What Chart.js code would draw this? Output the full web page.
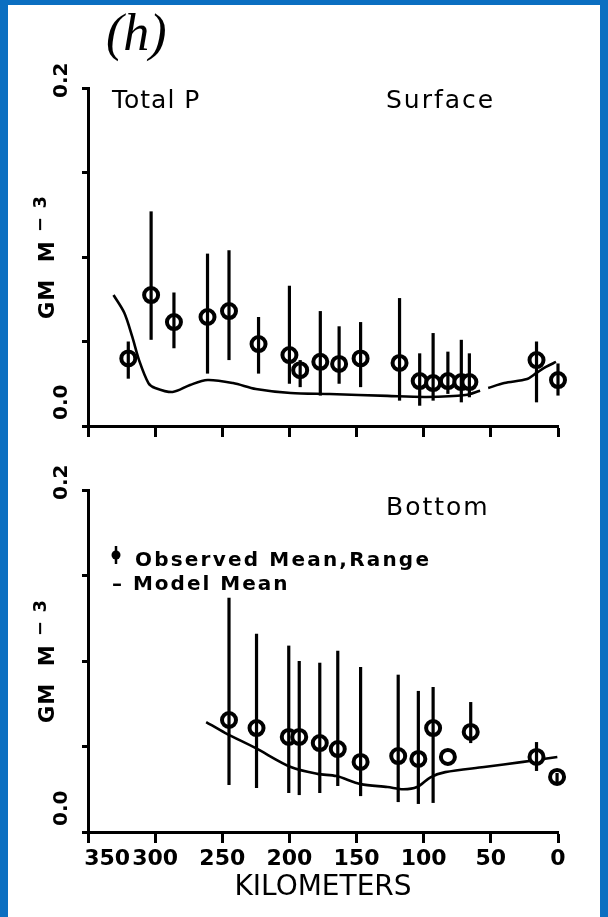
<!DOCTYPE html>
<html>
<head>
<meta charset="utf-8">
<script src="https://cdn.jsdelivr.net/npm/chart.js@4.4.1/dist/chart.umd.min.js"></script>
<style>
  html, body { margin: 0; padding: 0; background: #0b6fc1; width: 608px; height: 917px; overflow: hidden; }
  #paper { position: absolute; left: 8px; top: 5px; width: 592px; height: 912px; background: #fff; }
  canvas { position: absolute; left: 0; }
</style>
</head>
<body>
<div id="paper"></div>
<canvas id="surface" width="608" height="450" style="top:0"></canvas>
<canvas id="bottom" width="608" height="467" style="top:450px"></canvas>
<script>
// km tick labels (x axis runs 350 -> 0)
const kmTicks = [350, 300, 250, 200, 150, 100, 50, 0];

// Surface: observed mean and range
const surfKm   = [320, 303, 286, 261, 245, 223, 200, 192, 177, 163, 147, 118, 103, 93, 82, 72, 66, 16, 0];
const surfMean = [0.040, 0.0775, 0.0615, 0.0645, 0.068, 0.0485, 0.042, 0.033, 0.038, 0.0367, 0.040, 0.0373, 0.0266, 0.0254, 0.0266, 0.026, 0.026, 0.039, 0.0272];
const surfLo   = [0.028, 0.051, 0.046, 0.031, 0.039, 0.031, 0.025, 0.023, 0.018, 0.025, 0.023, 0.015, 0.012, 0.015, 0.019, 0.014, 0.017, 0.014, 0.018];
const surfHi   = [0.050, 0.127, 0.079, 0.102, 0.104, 0.0645, 0.083, 0.039, 0.068, 0.059, 0.0615, 0.0757, 0.043, 0.055, 0.044, 0.051, 0.043, 0.050, 0.037];

// Surface: model mean (null = break in the line)
const surfModelKm  = [331, 323, 317, 312, 305, 300, 287, 274, 261, 242, 225, 199, 170, 127, 98, 69, 58, 55, 52, 40, 23, 16, 9, 1.5];
const surfModelVal = [0.0775, 0.067, 0.0527, 0.039, 0.0254, 0.0225, 0.0201, 0.0243, 0.0272, 0.0254, 0.0219, 0.0195, 0.0189, 0.0178, 0.0172, 0.0183, 0.0209, null, 0.0225, 0.0254, 0.0278, 0.0314, 0.035, 0.0379];

// Bottom: observed mean and range
const botKm   = [245, 224.5, 200.5, 192.7, 177.4, 164, 147, 119, 104, 93, 82, 65, 16, 0.7];
const botMean = [0.0655, 0.0608, 0.0556, 0.0556, 0.052, 0.0485, 0.041, 0.0444, 0.0427, 0.0608, 0.0439, 0.0585, 0.0439, 0.0322];
const botLo   = [0.0275, 0.0257, 0.0228, 0.0216, 0.0228, 0.0269, 0.021, 0.0175, 0.0164, 0.017, null, 0.052, 0.0357, 0.0287];
const botHi   = [0.137, 0.116, 0.109, 0.100, 0.099, 0.106, 0.0965, 0.092, 0.0825, 0.0848, null, 0.076, 0.0526, 0.0345];

// Bottom: model mean
const botModelKm  = [262, 248, 225, 199, 179, 165, 147, 127, 115, 105, 95, 84, 55, 26, 11, 0.5];
const botModelVal = [0.0643, 0.058, 0.049, 0.038, 0.034, 0.0327, 0.028, 0.0263, 0.025, 0.0263, 0.032, 0.035, 0.038, 0.041, 0.0427, 0.0439];

const FONT = "'DejaVu Sans', sans-serif";

// error bars + rotated y labels + panel texts
const panelDeco = {
  id: 'panelDeco',
  afterDatasetsDraw(chart, args, opts) {
    const { ctx, scales: { x, y } } = chart;
    ctx.save();
    ctx.strokeStyle = '#000';
    ctx.lineWidth = 3.2;
    opts.km.forEach((k, i) => {
      if (opts.lo[i] == null) return;
      const px = x.getPixelForValue(k);
      ctx.beginPath();
      ctx.moveTo(px, y.getPixelForValue(opts.hi[i]));
      ctx.lineTo(px, y.getPixelForValue(opts.lo[i]));
      ctx.stroke();
    });
    ctx.restore();
  },
  afterDraw(chart, args, opts) {
    const { ctx, scales: { y }, chartArea } = chart;
    ctx.save();
    ctx.fillStyle = '#000';
    ctx.textBaseline = 'middle';
    ctx.textAlign = 'left';
    const rot = (txt, cx, cy) => {
      ctx.save();
      ctx.translate(cx, cy);
      ctx.rotate(-Math.PI / 2);
      ctx.fillText(txt, 0, 0);
      ctx.restore();
    };
    // y tick labels 0.2 and 0.0, read bottom-to-top
    ctx.font = 'bold 20px ' + FONT;
    rot('0.2', 62, y.getPixelForValue(0.2) + 10);
    rot('0.0', 62, y.getPixelForValue(0) - 6);
    // axis title GM M^-3
    const mid = (chartArea.top + chartArea.bottom) / 2;
    ctx.save();
    ctx.translate(49, mid);
    ctx.rotate(-Math.PI / 2);
    ctx.letterSpacing = '1px';
    ctx.font = 'bold 21px ' + FONT;
    const main = 'GM  M ';
    const w1 = ctx.measureText(main).width;
    ctx.font = 'bold 18px ' + FONT;
    const w2 = ctx.measureText('\u2212 3').width;
    ctx.font = 'bold 21px ' + FONT;
    ctx.fillText(main, -(w1 + w2) / 2, 0);
    ctx.font = 'bold 18px ' + FONT;
    ctx.fillText('\u2212 3', -(w1 + w2) / 2 + w1, -8);
    ctx.restore();
    // panel texts
    ctx.textBaseline = 'alphabetic';
    opts.texts.forEach(t => {
      ctx.font = t.font;
      ctx.letterSpacing = t.ls || '0px';
      ctx.fillText(t.text, t.x, t.y);
    });
    if (opts.legend) {
      const lx = 116, ly = 106;
      ctx.lineWidth = 2.5;
      ctx.beginPath();
      ctx.moveTo(lx, ly - 10); ctx.lineTo(lx, ly + 8);
      ctx.stroke();
      ctx.beginPath();
      ctx.arc(lx, ly - 1, 4.5, 0, Math.PI * 2);
      ctx.fill();
    }
    ctx.restore();
  }
};

function makePanel(id, km, mean, lo, hi, modelKm, modelVal, showX, padTop, padBottom, xHeight, texts, legend) {
  return new Chart(document.getElementById(id), {
    data: {
      datasets: [
        {
          type: 'line',
          data: modelKm.map((k, i) => ({ x: k, y: modelVal[i] })),
          borderColor: '#000',
          borderWidth: 2.6,
          pointRadius: 0,
          tension: 0.3,
          spanGaps: false,
          clip: false,
          order: 2
        },
        {
          type: 'scatter',
          data: km.map((k, i) => ({ x: k, y: mean[i] })),
          borderColor: '#000',
          backgroundColor: '#fff',
          borderWidth: 4,
          pointRadius: 7,
          pointStyle: 'circle',
          clip: false,
          order: 1
        }
      ]
    },
    options: {
      responsive: false,
      animation: false,
      devicePixelRatio: 1,
      layout: { padding: { left: 78, right: 50, top: padTop, bottom: padBottom } },
      plugins: {
        legend: { display: false },
        tooltip: { enabled: false },
        panelDeco: { km, lo, hi, texts, legend }
      },
      scales: {
        x: {
          type: 'linear',
          reverse: true,
          min: 0,
          max: 350,
          afterBuildTicks: (s) => { s.ticks = kmTicks.map(v => ({ value: v })); },
          afterFit: (s) => { s.height = xHeight; },
          grid: { drawOnChartArea: false, drawTicks: true, tickLength: 11, tickWidth: 3, color: '#000' },
          border: { display: true, width: 3, color: '#000' },
          ticks: {
            display: showX,
            autoSkip: false,
            padding: 3,
            color: '#000',
            font: { family: FONT, size: 22, weight: 'bold' },
            maxRotation: 0,
            minRotation: 0,
            callback: (v) => v === 350 ? '     350' : String(v)
          },
          title: {
            display: showX,
            text: 'KILOMETERS',
            color: '#000',
            font: { family: FONT, size: 28 },
            padding: { top: 0, bottom: 2 }
          }
        },
        y: {
          type: 'linear',
          min: 0,
          max: 0.2,
          afterBuildTicks: (s) => { s.ticks = [0, 0.05, 0.1, 0.15, 0.2].map(v => ({ value: v })); },
          afterFit: (s) => { s.width = 10; },
          grid: { drawOnChartArea: false, drawTicks: true, tickLength: 6, tickWidth: 3, color: '#000' },
          border: { display: true, width: 3, color: '#000' },
          ticks: { display: false }
        }
      }
    },
    plugins: [panelDeco]
  });
}

makePanel('surface', surfKm, surfMean, surfLo, surfHi, surfModelKm, surfModelVal,
  false, 88, 10, 14,
  [
    { text: '(h)', x: 106, y: 50, font: "italic 52px 'Liberation Serif', serif" },
    { text: 'Total P', x: 112, y: 108, font: '25px ' + FONT, ls: '1px' },
    { text: 'Surface', x: 386, y: 108, font: '25px ' + FONT, ls: '2px' }
  ], false);

makePanel('bottom', botKm, botMean, botLo, botHi, botModelKm, botModelVal,
  true, 40, 10, 75,
  [
    { text: 'Bottom', x: 386, y: 65, font: '25px ' + FONT, ls: '2px' },
    { text: 'Observed Mean,Range', x: 135, y: 116, font: 'bold 20px ' + FONT, ls: '2.2px' },
    { text: '\u2013 Model Mean', x: 112, y: 140, font: 'bold 20px ' + FONT, ls: '2px' }
  ], true);
</script>
</body>
</html>
